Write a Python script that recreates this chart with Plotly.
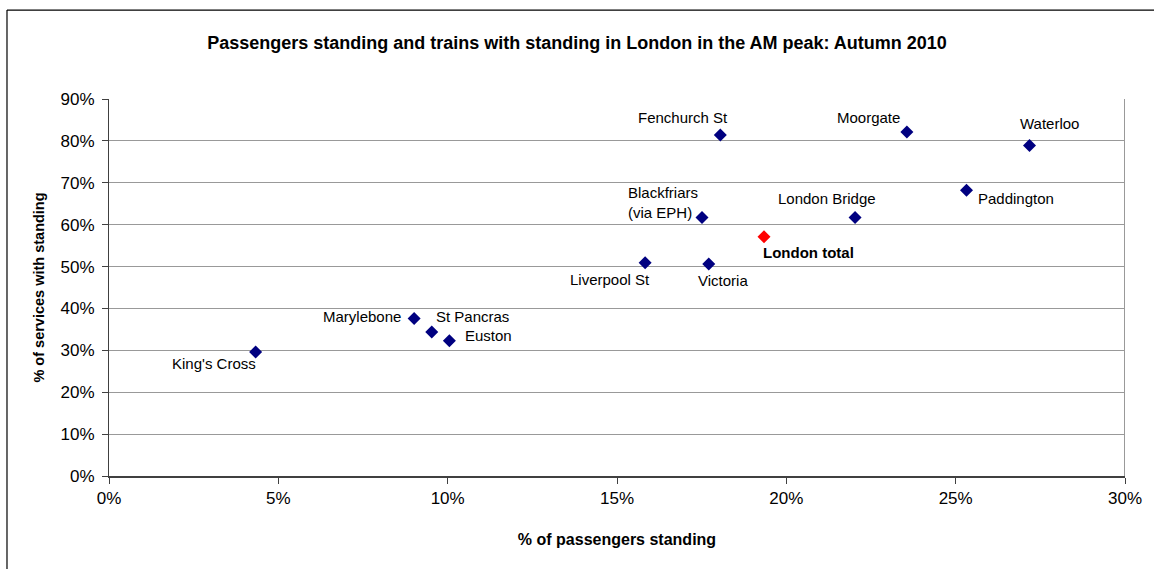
import plotly.graph_objects as go

# Autumn 2010 AM peak, London terminals
stations = ["King's Cross", "Marylebone", "St Pancras", "Euston", "Liverpool St",
            "Victoria", "Blackfriars<br>(via EPH)", "Fenchurch St", "London Bridge",
            "Moorgate", "Paddington", "Waterloo"]
pct_passengers_standing = [4.33, 9.01, 9.53, 10.05, 15.83, 17.71, 17.51, 18.05, 22.03, 23.56, 25.32, 27.18]
pct_services_standing = [29.6, 37.6, 34.4, 32.3, 50.9, 50.6, 61.7, 81.4, 61.7, 82.1, 68.2, 78.9]

total_label = "London total"
total_passengers_standing = 19.34
total_services_standing = 57.1

# label placement per station: (xanchor, xshift, yshift)
label_pos = {
    "King's Cross": ("right", 2, -11),
    "Marylebone": ("right", -11, 2),
    "St Pancras": ("left", 2, 15),
    "Euston": ("left", 14, 5),
    "Liverpool St": ("right", 7, -17),
    "Victoria": ("center", 14, -16),
    "Blackfriars<br>(via EPH)": ("right", -2, 15),
    "Fenchurch St": ("center", -37, 18),
    "London Bridge": ("center", -28, 19),
    "Moorgate": ("center", -38, 15),
    "Paddington": ("center", 49, -8),
    "Waterloo": ("center", 20, 22),
}

FONT = "Liberation Sans, Arial, sans-serif"

fig = go.Figure()
fig.add_trace(go.Scatter(
    x=pct_passengers_standing, y=pct_services_standing, mode="markers",
    marker=dict(symbol="diamond", size=10, color="#000080"),
    hoverinfo="skip", showlegend=False,
))
fig.add_trace(go.Scatter(
    x=[total_passengers_standing], y=[total_services_standing], mode="markers",
    marker=dict(symbol="diamond", size=10, color="#FF0000"),
    hoverinfo="skip", showlegend=False,
))

for name, xv, yv in zip(stations, pct_passengers_standing, pct_services_standing):
    anchor, dx, dy = label_pos[name]
    fig.add_annotation(x=xv, y=yv, text=name, showarrow=False, xanchor=anchor,
                       yanchor="middle", xshift=dx, yshift=dy, align="left",
                       font=dict(family=FONT, size=15, color="#000000"))

fig.add_annotation(x=total_passengers_standing, y=total_services_standing,
                   text="<b>" + total_label + "</b>", showarrow=False,
                   xanchor="left", yanchor="middle", xshift=-3, yshift=-16,
                   font=dict(family=FONT, size=15, color="#000000"))

# right edge of the plot area
fig.add_shape(type="line", x0=30, x1=30, y0=0, y1=90, xref="x", yref="y",
              line=dict(color="#999999", width=2), layer="below")
# outer chart frame
fig.add_shape(type="line", xref="paper", yref="paper", x0=-0.1004, x1=-0.1004,
              y0=-0.3, y1=1.236, line=dict(color="#000000", width=1.2))
fig.add_shape(type="line", xref="paper", yref="paper", x0=-0.1004, x1=1.1,
              y0=1.236, y1=1.236, line=dict(color="#000000", width=1.2))

fig.update_layout(
    width=1154, height=569,
    margin=dict(l=109, r=29, t=99, b=93),
    paper_bgcolor="white", plot_bgcolor="white",
    font=dict(family=FONT, size=15, color="#000000"),
    title=dict(text="<b>Passengers standing and trains with standing in London in the AM peak: Autumn 2010</b>",
               x=0.5, xref="container", xanchor="center", y=1 - 43 / 569, yanchor="middle",
               font=dict(family=FONT, size=18)),
    xaxis=dict(range=[0, 30], dtick=5, ticksuffix="%", showgrid=False, zeroline=False,
               showline=True, linecolor="#404040", linewidth=2,
               ticks="outside", ticklen=6, tickcolor="#404040",
               tickfont=dict(size=17),
               title=dict(text="<b>% of passengers standing</b>", standoff=26,
                          font=dict(size=16))),
    yaxis=dict(range=[0, 90], dtick=10, ticksuffix="%", showgrid=True,
               gridcolor="#999999", gridwidth=1, zeroline=False,
               showline=True, linecolor="#404040", linewidth=1,
               ticks="outside", ticklen=6, tickcolor="#404040",
               tickfont=dict(size=17), ticklabelstandoff=4,
               title=dict(text="<b>% of services with standing</b>", standoff=12,
                          font=dict(size=14.5))),
)

fig.write_html("out.html")
